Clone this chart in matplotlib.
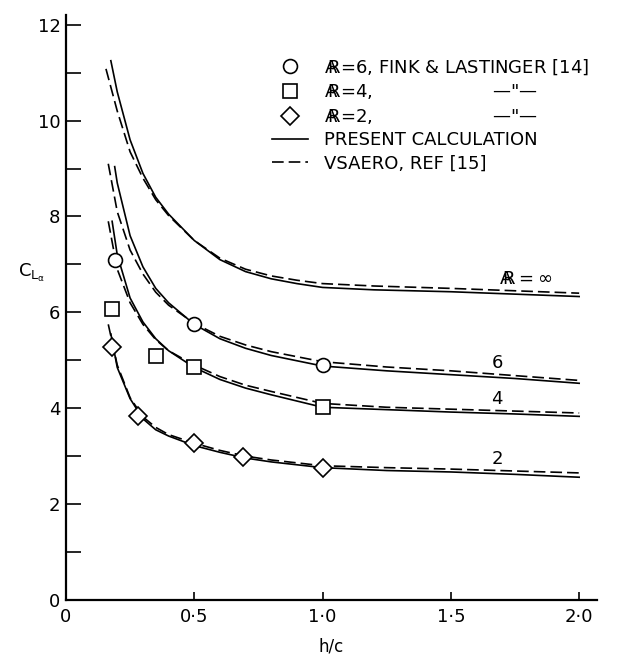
import matplotlib
matplotlib.use('Agg')
import matplotlib.pyplot as plt
from matplotlib.lines import Line2D

plt.rcParams['font.family'] = ['DejaVu Sans']

# ---- present calculation (solid) ----
x_inf = [0.175, 0.2, 0.25, 0.3, 0.35, 0.4, 0.5, 0.6, 0.7, 0.8, 0.9, 1.0, 1.2, 1.5, 1.75, 2.0]
y_inf = [11.25, 10.6, 9.6, 8.9, 8.4, 8.05, 7.5, 7.1, 6.85, 6.7, 6.6, 6.52, 6.47, 6.43, 6.38, 6.33]
x_ar6 = [0.19, 0.2, 0.25, 0.3, 0.35, 0.4, 0.5, 0.6, 0.7, 0.8, 1.0, 1.25, 1.5, 1.75, 2.0]
y_ar6 = [9.04, 8.7, 7.6, 6.95, 6.5, 6.2, 5.75, 5.45, 5.25, 5.1, 4.88, 4.78, 4.7, 4.62, 4.52]
x_ar4 = [0.18, 0.2, 0.25, 0.3, 0.35, 0.4, 0.5, 0.6, 0.7, 0.8, 1.0, 1.25, 1.5, 1.75, 2.0]
y_ar4 = [7.9, 7.2, 6.3, 5.8, 5.45, 5.2, 4.85, 4.6, 4.42, 4.28, 4.02, 3.97, 3.92, 3.88, 3.83]
x_ar2 = [0.175, 0.2, 0.25, 0.3, 0.35, 0.4, 0.5, 0.6, 0.7, 0.8, 1.0, 1.25, 1.5, 1.75, 2.0]
y_ar2 = [5.55, 4.85, 4.2, 3.78, 3.55, 3.42, 3.22, 3.08, 2.96, 2.88, 2.76, 2.7, 2.67, 2.62, 2.56]

# ---- VSAERO (dashed) ----
xv_inf = [0.156, 0.2, 0.25, 0.3, 0.35, 0.4, 0.5, 0.6, 0.7, 0.8, 0.9, 1.0, 1.2, 1.5, 1.75, 2.0]
yv_inf = [11.08, 10.2, 9.35, 8.8, 8.35, 8.02, 7.5, 7.13, 6.9, 6.76, 6.67, 6.6, 6.55, 6.5, 6.45, 6.4]
xv_ar6 = [0.165, 0.2, 0.25, 0.3, 0.35, 0.4, 0.5, 0.6, 0.7, 0.8, 1.0, 1.25, 1.5, 1.75, 2.0]
yv_ar6 = [9.1, 8.1, 7.3, 6.8, 6.42, 6.15, 5.77, 5.5, 5.32, 5.18, 4.97, 4.86, 4.78, 4.68, 4.58]
xv_ar4 = [0.165, 0.2, 0.25, 0.3, 0.35, 0.4, 0.5, 0.6, 0.7, 0.8, 1.0, 1.25, 1.5, 1.75, 2.0]
yv_ar4 = [7.9, 6.9, 6.2, 5.75, 5.43, 5.2, 4.9, 4.66, 4.48, 4.35, 4.1, 4.02, 3.98, 3.94, 3.9]
xv_ar2 = [0.165, 0.2, 0.25, 0.3, 0.35, 0.4, 0.5, 0.6, 0.7, 0.8, 1.0, 1.25, 1.5, 1.75, 2.0]
yv_ar2 = [5.75, 4.9, 4.22, 3.82, 3.6, 3.45, 3.27, 3.12, 3.0, 2.92, 2.8, 2.76, 2.73, 2.69, 2.65]

# ---- Fink & Lastinger experiments ----
fx_ar6 = [0.19, 0.5, 1.0]
fy_ar6 = [7.1, 5.75, 4.9]
fx_ar4 = [0.18, 0.35, 0.5, 1.0]
fy_ar4 = [6.08, 5.08, 4.87, 4.02]
fx_ar2 = [0.18, 0.28, 0.5, 0.69, 1.0]
fy_ar2 = [5.27, 3.83, 3.27, 2.98, 2.75]

xticks = [0, 0.5, 1.0, 1.5, 2.0]
xtick_labels = ['0', '0·5', '1·0', '1·5', '2·0']
yticks = [0, 2, 4, 6, 8, 10, 12]

AR = r'$\mathsf{A\!\!\!R}$'

fig = plt.figure(figsize=(6.22, 6.60), dpi=100)
ax = fig.add_axes([0.106, 0.091, 0.854, 0.886])

lw = 1.2
for xs, ys in [(x_inf, y_inf), (x_ar6, y_ar6), (x_ar4, y_ar4), (x_ar2, y_ar2)]:
    ax.plot(xs, ys, 'k-', lw=lw, zorder=2)
for xs, ys in [(xv_inf, yv_inf), (xv_ar6, yv_ar6), (xv_ar4, yv_ar4), (xv_ar2, yv_ar2)]:
    ax.plot(xs, ys, 'k-', lw=lw, dashes=(7, 3), zorder=2)

mk = dict(color='k', ls='none', markerfacecolor='white', markeredgewidth=1.2, zorder=3)
ax.plot(fx_ar6, fy_ar6, marker='o', markersize=10, **mk)
ax.plot(fx_ar4, fy_ar4, marker='s', markersize=9.5, **mk)
ax.plot(fx_ar2, fy_ar2, marker='D', markersize=9, **mk)

# curve labels
ax.text(1.79, 6.7, AR + r'$=\infty$', fontsize=13, ha='center', va='center')
ax.text(1.68, 4.95, '6', fontsize=13, ha='center', va='center')
ax.text(1.68, 4.2, '4', fontsize=13, ha='center', va='center')
ax.text(1.68, 2.95, '2', fontsize=13, ha='center', va='center')

# legend
handles = [
    Line2D([], [], **{**mk, 'marker': 'o', 'markersize': 10}),
    Line2D([], [], **{**mk, 'marker': 's', 'markersize': 9.5}),
    Line2D([], [], **{**mk, 'marker': 'D', 'markersize': 9}),
    Line2D([], [], color='k', lw=lw),
    Line2D([], [], color='k', lw=lw, dashes=(7, 3)),
]
labels = [
    AR + '=6, FINK & LASTINGER [14]',
    AR + '=4,                     —"—',
    AR + '=2,                     —"—',
    'PRESENT CALCULATION',
    'VSAERO, REF [15]',
]
ax.legend(handles, labels, loc='upper left', bbox_to_anchor=(0.374, 0.94),
          frameon=False, fontsize=13, handlelength=2.0, labelspacing=0.3,
          handletextpad=0.9, borderaxespad=0)

ax.set_xlim(0, 2.07)
ax.set_ylim(0, 12.2)
ax.set_xticks(xticks)
ax.set_xticklabels(xtick_labels)
ax.set_yticks(yticks)
ax.set_yticks(range(0, 13), minor=True)
ax.tick_params(axis='y', which='both', direction='in', length=11, width=1.2, labelsize=13, pad=4)
ax.tick_params(axis='x', direction='in', length=6, width=1.2, labelsize=13, pad=6)
ax.spines['top'].set_visible(False)
ax.spines['right'].set_visible(False)
ax.spines['left'].set_linewidth(1.6)
ax.spines['bottom'].set_linewidth(1.6)

ax.set_xlabel('h/c', fontsize=12, labelpad=8)
ax.set_ylabel(r'$\mathsf{C_{L_\alpha}}$', fontsize=13, rotation=0)
ax.yaxis.set_label_coords(-0.065, 0.54)

fig.savefig('out.png', dpi=100)
